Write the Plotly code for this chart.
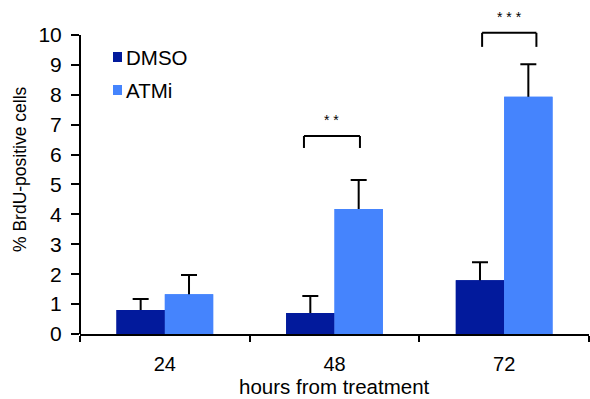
import plotly.graph_objects as go

hours = ["24", "48", "72"]
xpos = [0, 1, 2]
dmso = [0.80, 0.70, 1.80]
dmso_err = [0.37, 0.57, 0.60]
atmi = [1.33, 4.18, 7.93]
atmi_err = [0.64, 0.97, 1.09]

# significance brackets
sig_x0 = [0.82, 1.87]
sig_x1 = [1.15, 2.19]
sig_ybot = [6.22, 9.60]
sig_ytop = [6.62, 10.07]
sig_ystar = [7.15, 10.6]
sig_label = ["* *", "* * *"]

C_DMSO = "#021a9c"
C_ATMI = "#4584fd"
FONT = "Liberation Sans, Arial, Helvetica, sans-serif"

fig = go.Figure()
for name, vals, errs, col, grp in [("DMSO", dmso, dmso_err, C_DMSO, "a"),
                                    ("ATMi", atmi, atmi_err, C_ATMI, "b")]:
    fig.add_trace(go.Bar(
        x=xpos, y=vals, name=name, offsetgroup=grp,
        marker=dict(color=col, line=dict(width=0)),
        error_y=dict(type="data", array=errs, symmetric=True,
                     color="black", thickness=2, width=8),
        showlegend=False))
for name, vals, col, grp in [("DMSO", dmso, C_DMSO, "a"), ("ATMi", atmi, C_ATMI, "b")]:
    fig.add_trace(go.Bar(
        x=xpos, y=vals, name=name, offsetgroup=grp,
        marker=dict(color=col, line=dict(width=0)),
        showlegend=False, hoverinfo="skip"))

shapes = []
annotations = []
for x0, x1, yb, yt, ys, lab in zip(sig_x0, sig_x1, sig_ybot, sig_ytop, sig_ystar, sig_label):
    for (a, b, c, d) in [(x0, yb, x0, yt), (x0, yt, x1, yt), (x1, yt, x1, yb)]:
        shapes.append(dict(type="line", xref="x", yref="y", x0=a, y0=b, x1=c, y1=d,
                           line=dict(color="black", width=2)))
    annotations.append(dict(x=(x0 + x1) / 2, y=ys, xref="x", yref="y", text=lab,
                            showarrow=False, font=dict(size=14, color="black", family=FONT)))

shapes.append(dict(type="line", xref="paper", yref="y", x0=0, x1=0, y0=0, y1=10,
                   line=dict(color="black", width=2)))

L, R, T, B = 80, 589, 8, 334
W, H = R - L, B - T
def px(x):
    return (x - L) / W
def py(y):
    return (B - y) / H

for name, col, ytop in [("DMSO", C_DMSO, 52), ("ATMi", C_ATMI, 85)]:
    shapes.append(dict(type="rect", xref="paper", yref="paper",
                       x0=px(113), x1=px(122), y0=py(ytop + 10), y1=py(ytop),
                       fillcolor=col, line=dict(width=0)))
    annotations.append(dict(x=px(124), y=py(ytop + 5), xref="paper", yref="paper",
                            text=name, showarrow=False, xanchor="left", yanchor="middle",
                            font=dict(size=20.5, color="black", family=FONT)))

# axis titles
annotations.append(dict(x=px(20), y=py(169), xref="paper", yref="paper",
                        text="% BrdU-positive cells", showarrow=False, textangle=-90,
                        xanchor="center", yanchor="middle",
                        font=dict(size=17.5, color="black", family=FONT)))
annotations.append(dict(x=px(334), y=py(398.5), xref="paper", yref="paper",
                        text="hours from treatment", showarrow=False,
                        xanchor="center", yanchor="bottom", borderpad=0,
                        font=dict(size=20.5, color="black", family=FONT)))

fig.update_layout(
    width=590, height=399,
    margin=dict(l=L, r=590 - R, t=T, b=399 - B, pad=0),
    paper_bgcolor="white", plot_bgcolor="white",
    barmode="group", bargap=0.43, bargroupgap=0,
    font=dict(family=FONT, size=18, color="black"),
    shapes=shapes, annotations=annotations,
    xaxis=dict(
        range=[-0.5, 2.5], tickvals=xpos, ticktext=hours, ticks="",
        showline=True, linecolor="black", linewidth=2, showgrid=False, zeroline=False,
        minor=dict(tickvals=[-0.5, 0.5, 1.5, 2.5], ticks="outside", ticklen=6,
                   tickwidth=2, tickcolor="black", showgrid=False),
        tickfont=dict(size=20), ticklabelstandoff=11,
        title=dict(text=""),
        automargin=False,
        fixedrange=True,
    ),
    yaxis=dict(
        range=[0, 10.9], tickvals=list(range(0, 11)), ticks="outside", ticklen=8,
        tickwidth=2, tickcolor="black", showline=False, showgrid=False, zeroline=False,
        tickfont=dict(size=21), ticklabelstandoff=5,
        title=dict(text=""),
        automargin=False,
        fixedrange=True,
    ),
)

fig.write_html("out.html")
